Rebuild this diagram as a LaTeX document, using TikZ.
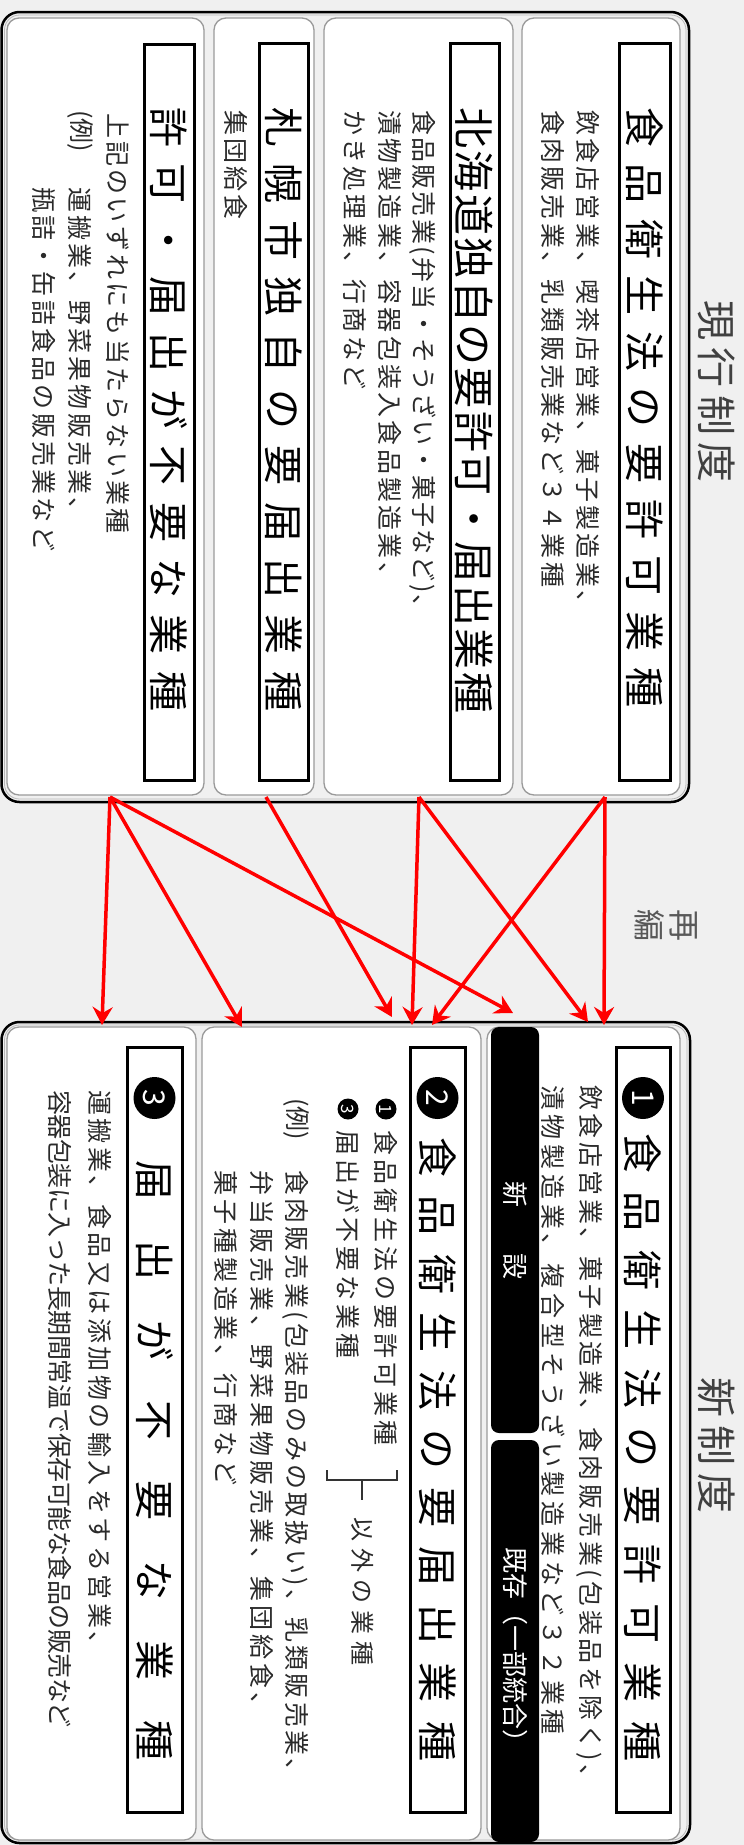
\documentclass[tikz,border=0pt]{standalone}
\usepackage{fontspec}
\setmainfont{Noto Sans CJK JP}
\newfontfamily\jp{Noto Sans CJK JP}
\usetikzlibrary{arrows.meta}
\definecolor{bgc}{HTML}{F0F0F0}
\definecolor{pbd}{HTML}{9A9A9A}
\definecolor{arr}{HTML}{FF0000}
\definecolor{bodyc}{HTML}{2A2A2A}
\newcommand\fs[2]{\jp\fontsize{#1}{#1}\selectfont\addfontfeatures{LetterSpace=#2}}
\begin{document}
\begin{tikzpicture}[x=1pt,y=1pt,
  outer/.style={draw=black, line width=2.5pt, fill=bgc, rounded corners=18pt},
  inline/.style={draw=pbd!70, line width=0.8pt, rounded corners=15pt},
  sub/.style={draw=pbd, line width=1.3pt, fill=white, rounded corners=12pt},
  hbox/.style={draw=black, line width=3pt, fill=white},
  tab/.style={fill=black, rounded corners=8pt},
  txt/.style={anchor=west, inner sep=0pt, text=bodyc},
  htxt/.style={anchor=west, inner sep=0pt, text=black},
  ttl/.style={anchor=west, inner sep=0pt, text=black!75},
  numc/.style={circle, fill=black, text=white, inner sep=0pt},
  conn/.style={draw=arr, line width=3.5pt, -{Stealth[length=18pt,width=20pt,inset=6pt]}}
]
\useasboundingbox (0,-1845) rectangle (744,0);
\begin{scope}[rotate=-90, transform shape]
\fill[bgc] (0,0) rectangle (1845,744);
% ---------------- current system
\draw[outer] (12,1.5) rectangle (802,689);
\draw[inline] (15,4.5) rectangle (799,686);
\draw[sub] (18,522) rectangle (795,680);
\draw[sub] (18,324) rectangle (795,513);
\draw[sub] (18,214) rectangle (795,314);
\draw[sub] (18,7) rectangle (795,204);
\draw[hbox] (43,619) rectangle (780,670);
\draw[hbox] (43,450) rectangle (780,499);
\draw[hbox] (43,259) rectangle (780,308);
\draw[hbox] (44,144) rectangle (780,194);
\node[ttl] (t1) at (300,717) {\fs{40}{19}現行制度};
\node[htxt] (hA) at (107,644.5) {\fs{40}{40}食品衛生法の要許可業種};
\node[htxt] (hB) at (107,474.5) {\fs{41}{6}北海道独自の要許可・届出業種};
\node[htxt] (hC) at (107,283.5) {\fs{40}{41}札幌市独自の要届出業種};
\node[htxt] (hD) at (107,169) {\fs{40}{41}許可・届出が不要な業種};
\node[txt] (bA1) at (110,588) {\fs{25}{13}飲食店営業、喫茶店営業、菓子製造業、};
\node[txt] (bA2) at (110,553) {\fs{25}{13}食肉販売業、乳類販売業など３４業種};
\node[txt] (bB1) at (110,423) {\fs{25}{9}食品販売業(弁当・そうざい・菓子など)、};
\node[txt] (bB2) at (110,390) {\fs{25}{13}漬物製造業、容器包装入食品製造業、};
\node[txt] (bB3) at (110,355) {\fs{25}{13}かき処理業、行商など};
\node[txt] (bC) at (110,236) {\fs{25}{13}集団給食};
\node[txt] (bD1) at (113,118) {\fs{25}{13}上記のいずれにも当たらない業種};
\node[txt] (bD2) at (110,80) {\fs{25}{0}(例)};
\node[txt] (bD3) at (187,80) {\fs{25}{13}運搬業、野菜果物販売業、};
\node[txt] (bD4) at (187,44) {\fs{25}{13}瓶詰・缶詰食品の販売業など};
% ---------------- middle label
\node[inner sep=0pt, text=black!65] (r1) at (925,684) {\fs{32}{0}再};
\node[inner sep=0pt, text=black!65] (r2) at (925,650) {\fs{32}{0}編};
% ---------------- new system
\draw[outer] (1022,1.5) rectangle (1843,690);
\draw[inline] (1025,4.5) rectangle (1840,687);
\draw[sub] (1027,487) rectangle (1840,680);
\draw[sub] (1027,202) rectangle (1840,481);
\draw[sub] (1027,7) rectangle (1840,196);
\draw[hbox] (1047,616) rectangle (1812,670);
\draw[hbox] (1047,410) rectangle (1812,465);
\draw[hbox] (1047,127) rectangle (1812,182);
\fill[tab] (1027,491) rectangle (1433,539);
\fill[tab] (1440,491) rectangle (1842,539);
\node[ttl] (t2) at (1377,717) {\fs{40}{20}新制度};
\node[numc, minimum size=42pt] (n1) at (1098,643) {\fs{30}{0}1};
\node[numc, minimum size=42pt] (n2) at (1098,437.5) {\fs{30}{0}2};
\node[numc, minimum size=42pt] (n3) at (1098,154.5) {\fs{30}{0}3};
\node[htxt] (h1) at (1133,643) {\fs{40}{47}食品衛生法の要許可業種};
\node[htxt] (h2) at (1137,437.5) {\fs{40}{46}食品衛生法の要届出業種};
\node[htxt] (h3) at (1160,154.5) {\fs{40}{100}届出が不要な業種};
\node[inner sep=0pt, text=white] (tb1) at (1230,515) {\fs{26}{0}新\hspace{46pt}設};
\node[inner sep=0pt, text=white] (tb2) at (1651,515) {\fs{26}{0}既存（一部統合）};
\node[txt] (p1a) at (1085,590) {\fs{25}{14}飲食店営業、菓子製造業、食肉販売業(包装品を除く)、};
\node[txt] (p1b) at (1085,553) {\fs{25}{19}漬物製造業、複合型そうざい製造業など３２業種};
\node[numc, minimum size=21pt] (m1) at (1109,386) {\fs{17}{0}1};
\node[txt] (p2a) at (1130,386) {\fs{25}{16}食品衛生法の要許可業種};
\node[numc, minimum size=21pt] (m3) at (1109,348) {\fs{17}{0}3};
\node[txt] (p2b) at (1130,348) {\fs{25}{16}届出が不要な業種};
\draw[line width=2pt, black!80] (1470,327) -- (1480,327) -- (1480,397) -- (1470,397);
\draw[line width=2pt, black!80] (1480,362) -- (1500,362);
\node[txt] (p2c) at (1517,363) {\fs{24}{30}以外の業種};
\node[txt] (p2d) at (1098,296) {\fs{25}{0}(例)};
\node[txt] (p2e) at (1170,296) {\fs{25}{13}食肉販売業(包装品のみの取扱い)、乳類販売業、};
\node[txt] (p2f) at (1170,262) {\fs{25}{16}弁当販売業、野菜果物販売業、集団給食、};
\node[txt] (p2g) at (1170,226) {\fs{25}{16}菓子種製造業、行商など};
\node[txt] (p3a) at (1090,100) {\fs{25}{14}運搬業、食品又は添加物の輸入をする営業、};
\node[txt] (p3b) at (1090,60) {\fs{25}{-2}容器包装に入った長期間常温で保存可能な食品の販売など};
% ---------------- arrows
\coordinate (sA) at (797,605);
\coordinate (sB) at (797,419);
\coordinate (sC) at (797,266);
\coordinate (sD) at (797,110);
\coordinate (eD3) at (1025,102);
\coordinate (eD2) at (1027,242);
\coordinate (eD1) at (1013,513);
\coordinate (eC2) at (1017,392);
\coordinate (eB2) at (1025,412);
\coordinate (eB1) at (1022,588);
\coordinate (eA1) at (1025,604);
\coordinate (eA2) at (1025,432);
\draw[conn] (sD) -- (eD3);
\draw[conn] (sD) -- (eD2);
\draw[conn] (sD) -- (eD1);
\draw[conn] (sC) -- (eC2);
\draw[conn] (sB) -- (eB2);
\draw[conn] (sB) -- (eB1);
\draw[conn] (sA) -- (eA1);
\draw[conn] (sA) -- (eA2);
\end{scope}
\end{tikzpicture}
\end{document}
